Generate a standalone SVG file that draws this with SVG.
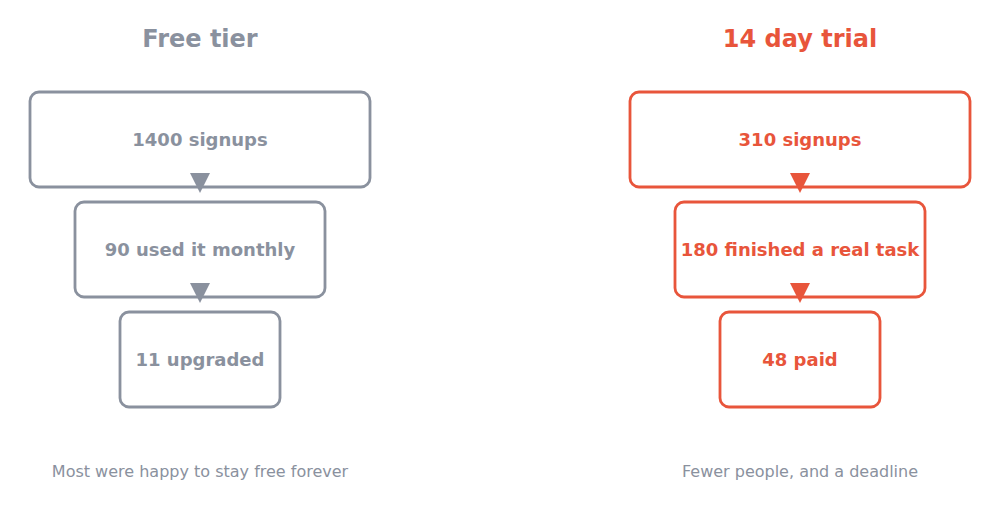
<svg xmlns="http://www.w3.org/2000/svg" width="1000" height="509" viewBox="0 0 1000 509">
<style>
.g{stroke:#8a919e;fill:#fff}.r{stroke:#e8553b;fill:#fff}
rect{stroke-width:2.8}
text{font-family:"DejaVu Sans",sans-serif;text-anchor:middle}
.t{font-size:24px;font-weight:bold}.n{font-size:18px;font-weight:bold;dominant-baseline:central}.c{font-size:16px}
.gt{fill:#8a919e}.rt{fill:#e8553b}
</style>
<text class="t gt" x="200" y="47">Free tier</text>
<text class="t rt" x="800" y="47">14 day trial</text>
<g id="free1"><rect class="g" x="30" y="92" width="340" height="95" rx="9"/><text class="n gt" x="200" y="139">1400 signups</text></g>
<g id="free2"><rect class="g" x="75" y="202" width="250" height="95" rx="9"/><text class="n gt" x="200" y="249">90 used it monthly</text></g>
<g id="free3"><rect class="g" x="120" y="312" width="160" height="95" rx="9"/><text class="n gt" x="200" y="359">11 upgraded</text></g>
<g id="trial1"><rect class="r" x="630" y="92" width="340" height="95" rx="9"/><text class="n rt" x="800" y="139">310 signups</text></g>
<g id="trial2"><rect class="r" x="675" y="202" width="250" height="95" rx="9"/><text class="n rt" x="800" y="249">180 finished a real task</text></g>
<g id="trial3"><rect class="r" x="720" y="312" width="160" height="95" rx="9"/><text class="n rt" x="800" y="359">48 paid</text></g>
<g id="connectors">
<polygon points="190,173 210,173 200,193" fill="#8a919e"/>
<polygon points="190,283 210,283 200,303" fill="#8a919e"/>
<polygon points="790,173 810,173 800,193" fill="#e8553b"/>
<polygon points="790,283 810,283 800,303" fill="#e8553b"/>
</g>
<text class="c gt" x="200" y="477">Most were happy to stay free forever</text>
<text class="c gt" x="800" y="477">Fewer people, and a deadline</text>
</svg>
